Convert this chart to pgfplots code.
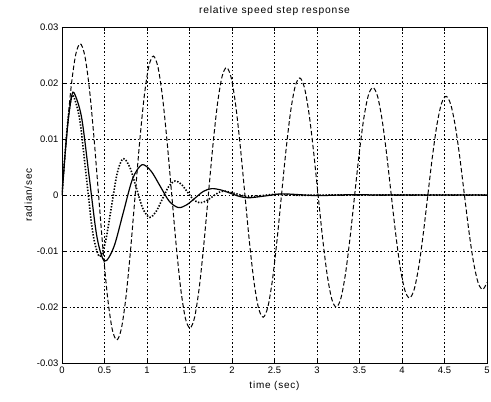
\documentclass[border=0pt]{standalone}
\usepackage{fontspec}
\setmainfont{Liberation Sans}
\newfontfamily\labelfont[LetterSpace=8]{Liberation Sans}
\usepackage{pgfplots}
\pgfplotsset{compat=1.18}
\begin{document}
\begin{tikzpicture}
\useasboundingbox (-62bp,-39bp) rectangle (429bp,363bp);
\begin{axis}[
  scale only axis,
  width=425bp, height=336bp,
  xmin=0, xmax=5, ymin=-0.03, ymax=0.03,
  xtick={0,0.5,1,1.5,2,2.5,3,3.5,4,4.5,5},
  xticklabels={0,0.5,1,1.5,2,2.5,3,3.5,4,4.5,5},
  ytick={-0.03,-0.02,-0.01,0,0.01,0.02,0.03},
  yticklabels={-0.03,-0.02,-0.01,0,0.01,0.02,0.03},
  scaled y ticks=false,
  grid=major,
  major grid style={black, line width=0.4pt, dash pattern=on 1.6pt off 2.2pt},
  tick align=inside,
  major tick length=4bp,
  axis line style={black, line width=0.5pt},
  tick style={black, line width=0.5pt},
  ticklabel style={font=\fontsize{9.5}{10}\selectfont},
  label style={font=\labelfont\fontsize{10}{11}\selectfont},
  title style={font=\labelfont\fontsize{10.3}{11}\selectfont, yshift=2bp},
  title={relative speed step response},
  xlabel={time (sec)},
  ylabel={radian/sec},
  xlabel style={yshift=-1bp},
  ylabel style={yshift=-2bp},
  clip=true,
]
% lightly damped (dashed)
\addplot[black, line width=1.0pt, dash pattern=on 4.5pt off 2.5pt, smooth] coordinates {
(0,0) (0.0538,0.01051) (0.1076,0.01931) (0.1614,0.02510) (0.2152,0.02702)
(0.269,0.02483) (0.3228,0.01891) (0.3766,0.01018) (0.4304,0) (0.4842,-0.01007)
(0.538,-0.01851) (0.5918,-0.02405) (0.6456,-0.02589) (0.6994,-0.02379) (0.7532,-0.01812)
(0.807,-0.00975) (0.8608,0) (0.9146,0.00965) (0.9684,0.01773) (1.0222,0.02304)
(1.076,0.02480) (1.1298,0.02279) (1.1836,0.01735) (1.2374,0.00934) (1.2912,0)
(1.345,-0.00924) (1.3988,-0.01698) (1.4526,-0.02207) (1.5064,-0.02376) (1.5602,-0.02184)
(1.614,-0.01662) (1.6678,-0.00895) (1.7216,0) (1.7754,0.00886) (1.8292,0.01628)
(1.883,0.02115) (1.9368,0.02277) (1.9906,0.02093) (2.0444,0.01593) (2.0982,0.00858)
(2.152,0) (2.2058,-0.00848) (2.2596,-0.01560) (2.3134,-0.02027) (2.3672,-0.02182)
(2.421,-0.02006) (2.4748,-0.01527) (2.5286,-0.00822) (2.5824,0) (2.6362,0.00813)
(2.69,0.01495) (2.7438,0.01942) (2.7976,0.02091) (2.8514,0.01922) (2.9052,0.01463)
(2.959,0.00787) (3.0128,0) (3.0666,-0.00779) (3.1204,-0.01432) (3.1742,-0.01861)
(3.228,-0.02003) (3.2818,-0.01841) (3.3356,-0.01401) (3.3894,-0.00755) (3.4432,0)
(3.497,0.00747) (3.5508,0.01372) (3.6046,0.01783) (3.6584,0.01919) (3.7122,0.01764)
(3.766,0.01343) (3.8198,0.00723) (3.8736,0) (3.9274,-0.00715) (3.9812,-0.01315)
(4.035,-0.01708) (4.0888,-0.01839) (4.1426,-0.01690) (4.1964,-0.01287) (4.2502,-0.00693)
(4.304,0) (4.3578,0.00685) (4.4116,0.01259) (4.4654,0.01637) (4.5192,0.01762)
(4.573,0.01620) (4.6268,0.01233) (4.6806,0.00664) (4.7344,0) (4.7882,-0.00657)
(4.842,-0.01206) (4.8958,-0.01568) (4.9496,-0.01688) (5,-0.0156)
};
% fast oscillation (dotted)
\addplot[black, line width=1.6pt, dash pattern=on 1.4pt off 1.6pt, smooth] coordinates {
(0,0) (0.0325,0.0068) (0.065,0.0126) (0.0975,0.0164) (0.13,0.0178)
(0.2075,0.01358) (0.285,0.0034) (0.3625,-0.00678) (0.44,-0.011)
(0.51,-0.00844) (0.58,-0.00225) (0.65,0.00394) (0.72,0.0065)
(0.7975,0.00496) (0.875,0.00125) (0.9525,-0.00246) (1.03,-0.004)
(1.105,-0.0030) (1.18,-0.00075) (1.255,0.0015) (1.33,0.0025)
(1.4025,0.00193) (1.475,0.00055) (1.5475,-0.00083) (1.62,-0.0014)
(1.6925,-0.00109) (1.765,-0.00035) (1.8375,0.0004) (1.91,0.0007)
(2.055,0.0002) (2.2,-0.0003) (2.5,0.0001) (2.8,-0.00005) (3.2,0)
(4,0) (5,0)
};
% damped (solid)
\addplot[black, line width=1.2pt, smooth] coordinates {
(0,0) (0.035,0.0070) (0.07,0.0129) (0.105,0.0169) (0.14,0.0183)
(0.23,0.01389) (0.32,0.00325) (0.41,-0.00739) (0.50,-0.0118)
(0.61,-0.00928) (0.72,-0.0032) (0.83,0.00288) (0.94,0.0054)
(1.0475,0.00428) (1.155,0.001575) (1.2625,-0.00113) (1.37,-0.00225)
(1.4675,-0.00175) (1.565,-0.000555) (1.6625,0.00064) (1.76,0.00114)
(1.87,0.0009) (1.98,0.00032) (2.09,-0.00026) (2.2,-0.0005)
(2.4,-0.00015) (2.6,0.0002) (3.0,-0.0001) (3.4,0.00005) (3.8,0)
(4.5,0) (5,0)
};
\end{axis}
\end{tikzpicture}
\end{document}
